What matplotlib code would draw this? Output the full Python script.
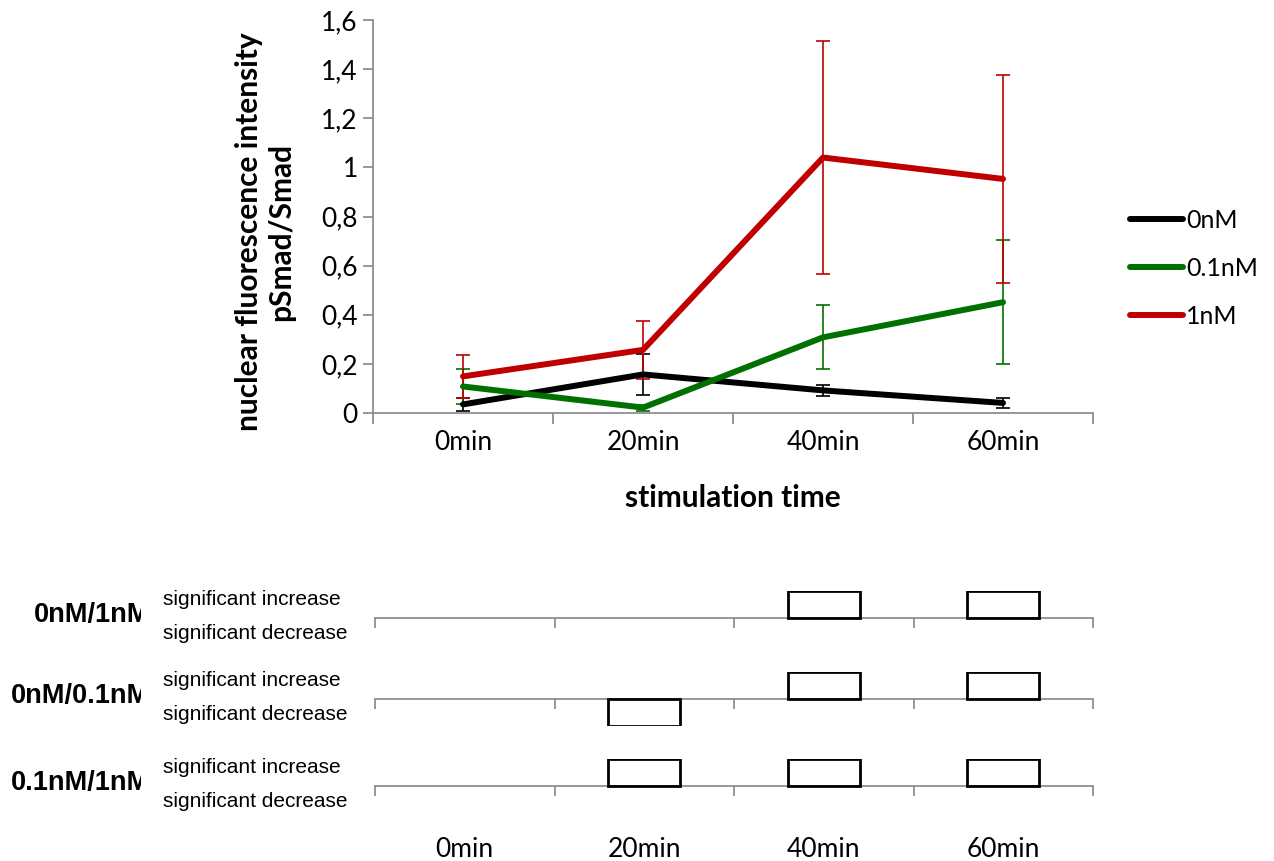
import numpy as np
import matplotlib
matplotlib.use("Agg")
import matplotlib.pyplot as plt
from matplotlib.transforms import Bbox, TransformedBbox

# ---------------- data ----------------
times = ["0min", "20min", "40min", "60min"]
series_names = ["0nM", "0.1nM", "1nM"]
mean_0nM = [0.035, 0.157, 0.092, 0.041]
err_0nM = [0.025, 0.083, 0.024, 0.020]
mean_01nM = [0.108, 0.022, 0.308, 0.451]
err_01nM = [0.072, 0.012, 0.130, 0.253]
mean_1nM = [0.149, 0.257, 1.040, 0.953]
err_1nM = [0.088, 0.117, 0.475, 0.422]
y_ticks = [0, 0.2, 0.4, 0.6, 0.8, 1.0, 1.2, 1.4, 1.6]
y_tick_labels = ["0", "0,2", "0,4", "0,6", "0,8", "1", "1,2", "1,4", "1,6"]

comparisons = ["0nM/1nM", "0nM/0.1nM", "0.1nM/1nM"]
# +1 = significant increase, -1 = significant decrease, 0 = none
sig_0_1 = [0, 0, 1, 1]
sig_0_01 = [0, -1, 1, 1]
sig_01_1 = [0, 1, 1, 1]

# ---------------- layout ----------------
W, H = 1274, 861
fig = plt.figure(figsize=(W / 100, H / 100), dpi=100)


def rect(x0, y0, x1, y1):
    return [x0 / W, 1 - y1 / H, (x1 - x0) / W, (y1 - y0) / H]


CAL = ["Lato", "DejaVu Sans"]
ARI = ["Liberation Sans", "DejaVu Sans"]
GRAY = "#868686"
colors = ["#000000", "#007000", "#C00000"]
TICKFS = 19

ax = fig.add_axes(rect(373, 20, 1093, 413))
xc = np.arange(len(times)) + 0.5
means = [mean_0nM, mean_01nM, mean_1nM]
errs = [err_0nM, err_01nM, err_1nM]
handles = []
for m, e, c, n in zip(means, errs, colors, series_names):
    ax.errorbar(xc, m, yerr=e, fmt="none", ecolor=c, elinewidth=1.2,
                capsize=5, capthick=1.2, zorder=2)
    ln, = ax.plot(xc, m, color=c, lw=4.3, solid_capstyle="round",
                  solid_joinstyle="round", label=n, zorder=3)
    handles.append(ln)

ax.set_xlim(0, len(times))
ax.set_ylim(0, 1.6)
ax.set_yticks(y_ticks)
ax.set_yticklabels(y_tick_labels, fontfamily=CAL, fontsize=TICKFS)
ax.set_xticks(np.arange(len(times) + 1))
ax.set_xticklabels([])
ax.set_xticks(xc, minor=True)
ax.set_xticklabels(times, minor=True, fontfamily=CAL, fontsize=TICKFS)
ax.tick_params(axis="x", which="major", length=8, color=GRAY, width=1.2)
ax.tick_params(axis="x", which="minor", length=0, pad=12)
ax.tick_params(axis="y", length=7, color=GRAY, width=1.2, pad=4)
for s in ["top", "right"]:
    ax.spines[s].set_visible(False)
for s in ["left", "bottom"]:
    ax.spines[s].set_color(GRAY)
    ax.spines[s].set_linewidth(1.2)

fig.text(265 / W, 1 - 232 / H, "nuclear fluorescence intensity\npSmad/Smad",
         rotation=90, ha="center", va="center", fontfamily=CAL,
         fontweight="bold", fontsize=21.5, linespacing=1.15)
fig.text(733 / W, 1 - 498 / H, "stimulation time", ha="center", va="center",
         fontfamily=CAL, fontweight="bold", fontsize=21.5)

fig.legend(handles=handles, labels=series_names, loc="center left",
           bbox_to_anchor=(1130 / W, 1 - 268 / H), bbox_transform=fig.transFigure,
           frameon=False, borderpad=0, borderaxespad=0, handlelength=2.1,
           handletextpad=0.15, labelspacing=1.0,
           prop={"family": CAL, "size": 18})

# ---------------- significance panel ----------------
sigs = [sig_0_1, sig_0_01, sig_01_1]
baselines = [617.7, 699.0, 785.7]
box_h = 27
clip = TransformedBbox(Bbox.from_extents(0, 0, 141 / W, 1), fig.transFigure)
for i, (comp, sig, yb) in enumerate(zip(comparisons, sigs, baselines)):
    a = fig.add_axes(rect(375, yb - box_h, 1093, yb + box_h))
    a.set_xlim(0, len(times))
    a.set_ylim(-1, 1)
    a.patch.set_visible(False)
    for s in ["top", "right", "left"]:
        a.spines[s].set_visible(False)
    a.spines["bottom"].set_position(("data", 0))
    a.spines["bottom"].set_color(GRAY)
    a.spines["bottom"].set_linewidth(1.2)
    a.set_yticks([])
    a.set_xticks(np.arange(len(times) + 1))
    a.set_xticklabels([])
    a.tick_params(axis="x", which="major", length=7, color=GRAY, width=1.2)
    sig_arr = np.array(sig)
    nz = sig_arr != 0
    a.bar(xc[nz], sig_arr[nz], width=0.4, bottom=0, fill=False,
          edgecolor="black", linewidth=2.0, zorder=3)
    if i == len(comparisons) - 1:
        a.set_xticks(xc, minor=True)
        a.set_xticklabels(times, minor=True, fontfamily=CAL, fontsize=TICKFS)
        a.tick_params(axis="x", which="minor", length=0, pad=37)
    fig.text(163 / W, 1 - (yb - 18) / H, "significant increase", ha="left",
             va="center", fontfamily=ARI, fontsize=15)
    fig.text(163 / W, 1 - (yb + 16) / H, "significant decrease", ha="left",
             va="center", fontfamily=ARI, fontsize=15)
    t = fig.text(150 / W, 1 - (yb - 3) / H, comp, ha="right", va="center",
                 fontfamily=ARI, fontweight="bold", fontsize=19.5)
    t.set_clip_on(True)
    t.set_clip_box(clip)

fig.savefig("out.png", dpi=100, facecolor="white")
